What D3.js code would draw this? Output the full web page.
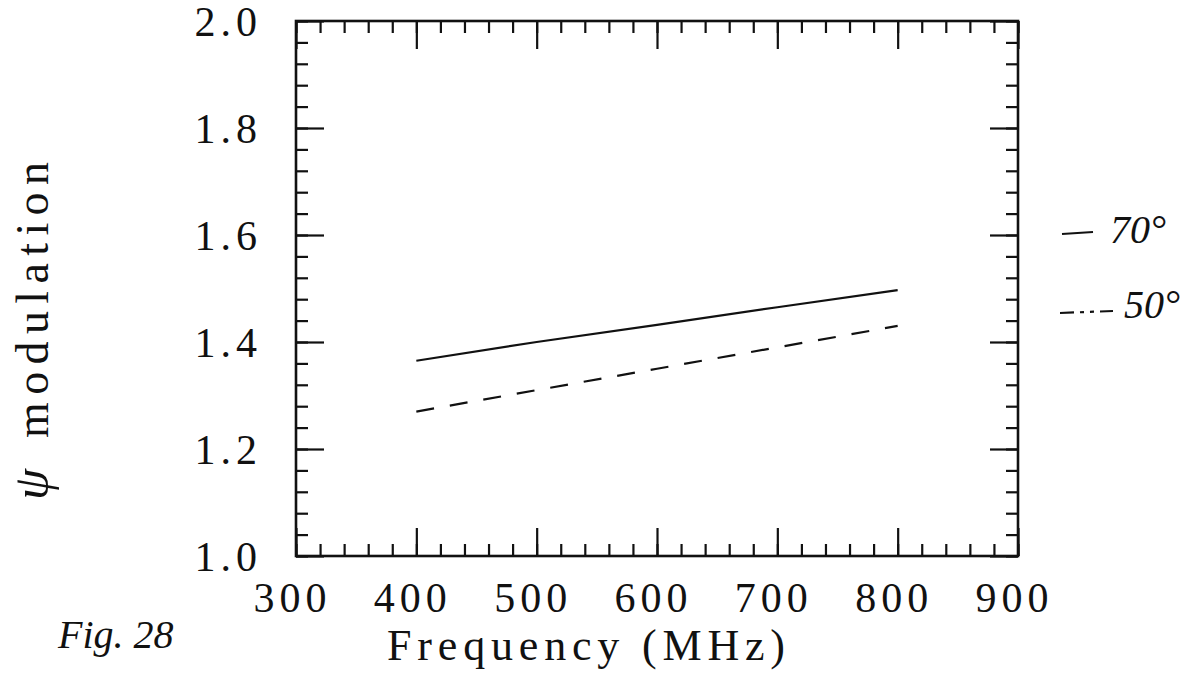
<!DOCTYPE html>
<html>
<head>
<meta charset="utf-8">
<script src="https://cdn.jsdelivr.net/npm/d3@7"></script>
<style>
  html, body { margin: 0; padding: 0; background: #fff; }
  svg { display: block; }
  text { font-family: "Liberation Serif", "DejaVu Serif", serif; fill: #111; }
</style>
</head>
<body>
<svg id="chart" width="1194" height="685"></svg>
<script>
// ---- data ----
const freq = [400, 500, 600, 700, 800];
const psi70 = [1.365, 1.400, 1.432, 1.465, 1.497];
const psi50 = [1.270, 1.310, 1.350, 1.390, 1.430];
const xTicks = [300, 400, 500, 600, 700, 800, 900];
const yTicks = [1.0, 1.2, 1.4, 1.6, 1.8, 2.0];
const xMinor = d3.range(300, 901, 20);
const yMinor = d3.range(1.0, 2.0001, 0.04).map(v => +v.toFixed(2));
const legendLabels = ["70°", "50°"];
const xTitle = "Frequency  (MHz)";
const yTitleSym = "ψ";
const yTitleText = "modulation";
const figLabel = "Fig. 28";

// ---- layout ----
const L = 296, R = 1018, T = 21, B = 556;
const svg = d3.select("#chart");
const x = d3.scaleLinear().domain([300, 900]).range([L, R]);
const y = d3.scaleLinear().domain([1.0, 2.0]).range([B, T]);
const MAJ = 28, MIN = 12;
const ink = "#111";

function styleAxis(g) {
  g.select(".domain").remove();
  g.selectAll(".tick line").attr("stroke", ink).attr("stroke-width", 2.2);
}

// minor ticks
svg.append("g").attr("transform", `translate(0,${B})`)
  .call(d3.axisBottom(x).tickValues(xMinor).tickSize(-MIN).tickFormat(""))
  .call(styleAxis);
svg.append("g").attr("transform", `translate(0,${T})`)
  .call(d3.axisTop(x).tickValues(xMinor).tickSize(-MIN).tickFormat(""))
  .call(styleAxis);
svg.append("g").attr("transform", `translate(${L},0)`)
  .call(d3.axisLeft(y).tickValues(yMinor).tickSize(-MIN).tickFormat(""))
  .call(styleAxis);
svg.append("g").attr("transform", `translate(${R},0)`)
  .call(d3.axisRight(y).tickValues(yMinor).tickSize(-MIN).tickFormat(""))
  .call(styleAxis);

// major ticks with labels
const fs = 42;
const gxB = svg.append("g").attr("transform", `translate(0,${B})`)
  .call(d3.axisBottom(x).tickValues(xTicks).tickSize(-MAJ).tickPadding(26).tickFormat(d3.format("d")))
  .call(styleAxis);
gxB.selectAll(".tick text").attr("font-size", fs).attr("font-family", "Liberation Serif")
  .attr("letter-spacing", 5).attr("dx", -4).attr("fill", ink);
svg.append("g").attr("transform", `translate(0,${T})`)
  .call(d3.axisTop(x).tickValues(xTicks).tickSize(-MAJ).tickFormat(""))
  .call(styleAxis);
const gyL = svg.append("g").attr("transform", `translate(${L},0)`)
  .call(d3.axisLeft(y).tickValues(yTicks).tickSize(-MAJ).tickPadding(34).tickFormat(d3.format(".1f")))
  .call(styleAxis);
gyL.selectAll(".tick text").attr("font-size", fs).attr("font-family", "Liberation Serif")
  .attr("letter-spacing", 5).attr("fill", ink).attr("dy", "0.34em");
svg.append("g").attr("transform", `translate(${R},0)`)
  .call(d3.axisRight(y).tickValues(yTicks).tickSize(-MAJ).tickFormat(""))
  .call(styleAxis);

// frame
svg.append("rect").attr("x", L).attr("y", T).attr("width", R - L).attr("height", B - T)
  .attr("fill", "none").attr("stroke", ink).attr("stroke-width", 2.6);

// lines
const line = d3.line().x((d, i) => x(freq[i])).y(d => y(d));
svg.append("path").datum(psi70).attr("d", line)
  .attr("fill", "none").attr("stroke", ink).attr("stroke-width", 2.2);
svg.append("path").datum(psi50).attr("d", line)
  .attr("fill", "none").attr("stroke", ink).attr("stroke-width", 2.2)
  .attr("stroke-dasharray", "18,16");

// axis titles
svg.append("text").attr("x", 387).attr("y", 660)
  .attr("font-size", 44).attr("textLength", 398).attr("lengthAdjust", "spacing")
  .text(xTitle);
const yt = svg.append("text").attr("transform", "translate(48,500) rotate(-90)")
  .attr("font-size", 46);
yt.append("tspan").attr("font-style", "italic").attr("font-size", 50).text(yTitleSym);
yt.append("tspan").attr("x", 62).attr("textLength", 276).attr("lengthAdjust", "spacing")
  .text(yTitleText);

// handwritten legend
const hand = "'DejaVu Sans', sans-serif";
svg.append("line").attr("x1", 1062).attr("x2", 1093).attr("y1", 234).attr("y2", 232)
  .attr("stroke", ink).attr("stroke-width", 2.2);
svg.append("text").attr("x", 1110).attr("y", 243).attr("font-size", 40)
  .attr("font-style", "italic").attr("font-family", hand).attr("font-weight", 300)
  .text(legendLabels[0]);
svg.append("line").attr("x1", 1060).attr("x2", 1113).attr("y1", 313).attr("y2", 311)
  .attr("stroke", ink).attr("stroke-width", 2.2).attr("stroke-dasharray", "14,6,4,6,4,6");
svg.append("text").attr("x", 1124).attr("y", 318).attr("font-size", 40)
  .attr("font-style", "italic").attr("font-family", hand).attr("font-weight", 300)
  .text(legendLabels[1]);

// handwritten figure label
svg.append("text").attr("x", 58).attr("y", 648).attr("font-size", 40)
  .attr("font-style", "italic").attr("font-family", hand).attr("font-weight", 300)
  .text(figLabel);
</script>
</body>
</html>
